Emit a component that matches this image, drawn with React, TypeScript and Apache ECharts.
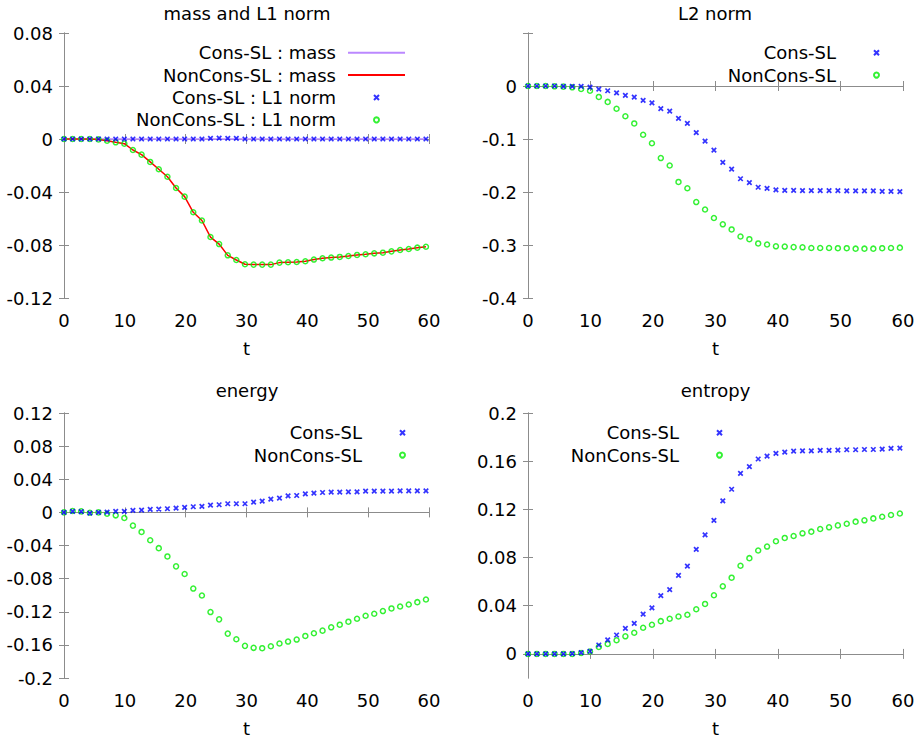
import React, { useEffect, useRef } from "react";
import * as echarts from "echarts";

// time samples
const tValues = [
  0, 1.42, 2.83, 4.25, 5.67, 7.08, 8.5, 9.92, 11.33, 12.75, 14.17, 15.58, 17, 18.42,
  19.83, 21.25, 22.67, 24.08, 25.5, 26.92, 28.33, 29.75, 31.17, 32.58, 34, 35.42,
  36.83, 38.25, 39.67, 41.08, 42.5, 43.92, 45.33, 46.75, 48.17, 49.58, 51, 52.42,
  53.83, 55.25, 56.67, 58.08, 59.5,
];

// mass and L1 norm
const consMass = [
  0, 0, 0, 0, 0, 0, 0, 0, 0, 0, 0, 0, 0, 0, 0, 0, 0, 0, 0, 0, 0, 0, 0, 0, 0, 0, 0,
  0, 0, 0, 0, 0, 0, 0, 0, 0, 0, 0, 0, 0, 0, 0, 0,
];
const nonConsMass = [
  0, 0, 0, 0, -0.0003, -0.0013, -0.0025, -0.0035, -0.0083, -0.0118, -0.0173, -0.0228,
  -0.0285, -0.037, -0.0435, -0.0553, -0.0615, -0.074, -0.0793, -0.0878, -0.0913,
  -0.0945, -0.0948, -0.0948, -0.0948, -0.0933, -0.093, -0.0928, -0.0923, -0.091,
  -0.09, -0.0895, -0.089, -0.0883, -0.0875, -0.087, -0.0863, -0.0858, -0.0848,
  -0.0838, -0.083, -0.082, -0.0813,
];
const consL1 = [
  0, 0, 0, 0, 0, 0, 0, 0, 0, 0, 0, 0, 0, 0, 0, 0, 0, 0.0005, 0.0006, 0.0005, 0.0004,
  0, 0, 0, 0, 0, 0, 0, 0, 0, 0, 0, 0, 0, 0, 0, 0, 0, 0, 0, 0, 0, 0,
];
const nonConsL1 = [
  0, 0, 0, 0, -0.0003, -0.0013, -0.0025, -0.0035, -0.0083, -0.0118, -0.0173, -0.0228,
  -0.0285, -0.037, -0.0435, -0.0553, -0.0615, -0.074, -0.0793, -0.0878, -0.0913,
  -0.0945, -0.0948, -0.0948, -0.0948, -0.0933, -0.093, -0.0928, -0.0923, -0.091,
  -0.09, -0.0895, -0.089, -0.0883, -0.0875, -0.087, -0.0863, -0.0858, -0.0848,
  -0.0838, -0.083, -0.082, -0.0813,
];

// L2 norm
const consL2 = [
  0, 0, 0, 0, -0.0006, -0.0006, -0.0006, -0.002, -0.006, -0.009, -0.013, -0.0175,
  -0.021, -0.027, -0.032, -0.0425, -0.0475, -0.061, -0.0706, -0.088, -0.104, -0.121,
  -0.144, -0.157, -0.175, -0.1825, -0.191, -0.193, -0.196, -0.197, -0.197, -0.1975,
  -0.1975, -0.1975, -0.1975, -0.1975, -0.198, -0.198, -0.198, -0.198, -0.1988,
  -0.1988, -0.1994,
];
const nonConsL2 = [
  0, 0, 0, -0.0006, -0.0012, -0.0025, -0.0056, -0.009, -0.0206, -0.03, -0.043, -0.057,
  -0.0706, -0.092, -0.108, -0.136, -0.15, -0.181, -0.193, -0.219, -0.233, -0.249,
  -0.261, -0.2706, -0.284, -0.289, -0.297, -0.299, -0.3025, -0.303, -0.304, -0.3044,
  -0.3056, -0.3056, -0.3056, -0.306, -0.306, -0.3069, -0.3069, -0.3069, -0.306,
  -0.3056, -0.305,
];

// energy
const consEnergy = [
  0, 0.0012, 0.0008, -0.0008, 0, 0.0004, 0.0012, 0.0012, 0.0024, 0.0028, 0.0036,
  0.004, 0.0044, 0.0052, 0.006, 0.0068, 0.0072, 0.0088, 0.0092, 0.0104, 0.0104,
  0.0104, 0.0124, 0.0136, 0.016, 0.0172, 0.02, 0.0204, 0.0224, 0.0232, 0.024, 0.0244,
  0.0244, 0.0248, 0.0248, 0.0256, 0.0256, 0.0256, 0.0256, 0.026, 0.026, 0.026, 0.026,
];
const nonConsEnergy = [
  0, 0.0016, 0.0012, -0.0004, 0, -0.0016, -0.0036, -0.0068, -0.016, -0.0236, -0.0336,
  -0.0432, -0.0532, -0.0652, -0.0744, -0.092, -0.1004, -0.1204, -0.1292, -0.1464,
  -0.1532, -0.1612, -0.1636, -0.164, -0.1616, -0.1584, -0.156, -0.1536, -0.1492,
  -0.146, -0.1428, -0.1388, -0.1356, -0.132, -0.1284, -0.1248, -0.1224, -0.1192,
  -0.116, -0.1136, -0.1112, -0.1084, -0.1052,
];

// entropy
const consEntropy = [
  0, 0, 0, 0, 0, 0.0003, 0.0011, 0.0022, 0.0074, 0.0116, 0.0157, 0.0212, 0.0253,
  0.033, 0.0382, 0.0484, 0.0534, 0.0652, 0.0729, 0.0867, 0.0988, 0.1109, 0.1271,
  0.1367, 0.1499, 0.1554, 0.1618, 0.1642, 0.1664, 0.1675, 0.1684, 0.1686, 0.1686,
  0.1689, 0.1689, 0.1692, 0.1695, 0.1695, 0.1697, 0.1697, 0.17, 0.1706, 0.1708,
];
const nonConsEntropy = [
  0, 0, 0, 0, 0, 0, 0.0008, 0.002, 0.0058, 0.0083, 0.0113, 0.0146, 0.0176, 0.0217,
  0.0242, 0.0272, 0.0292, 0.0311, 0.0325, 0.0371, 0.0415, 0.0487, 0.0561, 0.0633,
  0.0732, 0.0795, 0.0858, 0.0891, 0.0935, 0.0963, 0.0979, 0.1001, 0.1015, 0.1037,
  0.1051, 0.1067, 0.1081, 0.1098, 0.1109, 0.1125, 0.1139, 0.1153, 0.1166,
];

const panelTitles = ["mass and L1 norm", "L2 norm", "energy", "entropy"];
const entropyTicks = [0, 0.04, 0.08, 0.12, 0.16, 0.2];

const FONT = "DejaVu Sans";
const GRAY = "#8c8c8c";
const BLUE = "#0000ff";
const GREEN = "#00ee00";
const CROSS = "path://M0,0L10,10M10,0L0,10";

const pairs = (ys: number[]) => tValues.map((t, i) => [t, ys[i]]);

export default function App() {
  const ref = useRef<HTMLDivElement>(null);
  useEffect(() => {
    if (!ref.current) return;
    const chart = echarts.init(ref.current, null, { renderer: "svg" });

    const grids = [
      { left: 64, top: 33, width: 365, height: 265 },
      { left: 528, top: 33, width: 375, height: 265 },
      { left: 64, top: 413, width: 365, height: 266 },
      { left: 528, top: 413, width: 375, height: 266 },
    ];
    const yRanges: any[] = [
      { min: -0.12, max: 0.08, interval: 0.04 },
      { min: -0.4, max: 0.1, interval: 0.1 },
      { min: -0.2, max: 0.12, interval: 0.04 },
      { min: -0.02, max: 0.2 },
    ];

    const lineStyleAxis = { lineStyle: { color: GRAY, width: 1 } };
    const tick = { inside: true, length: 5, lineStyle: { color: GRAY } };
    const label = { color: "#000", fontFamily: FONT, fontSize: 18 };

    const xAxis: any[] = [];
    const yAxis: any[] = [];
    grids.forEach((_, g) => {
      xAxis.push({
        type: "value",
        gridIndex: g,
        position: "bottom",
        min: 0,
        max: 60,
        interval: 10,
        name: "t",
        nameLocation: "middle",
        nameGap: 41,
        nameTextStyle: { ...label },
        axisLine: lineStyleAxis,
        axisTick: tick,
        axisLabel: { ...label, margin: 13 },
        splitLine: { show: false },
      });
      xAxis.push({
        type: "value",
        gridIndex: g,
        position: "top",
        min: 0,
        max: 60,
        interval: 10,
        axisLine: lineStyleAxis,
        axisTick: tick,
        axisLabel: { show: false },
        splitLine: { show: false },
      });
      const yr = yRanges[g];
      const custom = g === 3;
      yAxis.push({
        type: "value",
        gridIndex: g,
        position: "left",
        ...yr,
        axisLine: lineStyleAxis,
        axisTick: custom ? { ...tick, customValues: entropyTicks } : tick,
        axisLabel: custom
          ? { ...label, margin: 11, customValues: entropyTicks }
          : {
              ...label,
              margin: 11,
              formatter: (v: number) => (g === 1 && v > 0.05 ? "" : String(+v.toFixed(4))),
            },
        splitLine: { show: false },
      });
      yAxis.push({
        type: "value",
        gridIndex: g,
        position: "right",
        ...yr,
        axisLine: lineStyleAxis,
        axisTick: custom ? { ...tick, customValues: entropyTicks } : tick,
        axisLabel: { show: false },
        splitLine: { show: false },
      });
    });

    const crossSeries = (name: string, g: number, ys: number[]) => ({
      type: "scatter",
      name,
      xAxisIndex: g * 2,
      yAxisIndex: g * 2,
      symbol: CROSS,
      symbolSize: 4.5,
      itemStyle: { color: BLUE, borderColor: BLUE, borderWidth: 1.7 },
      data: pairs(ys),
      z: 4,
    });
    const circleSeries = (name: string, g: number, ys: number[]) => ({
      type: "scatter",
      name,
      xAxisIndex: g * 2,
      yAxisIndex: g * 2,
      symbol: "circle",
      symbolSize: 5,
      itemStyle: { color: "rgba(0,0,0,0)", borderColor: GREEN, borderWidth: 1.5 },
      data: pairs(ys),
      z: 3,
    });
    const lineSeries = (name: string, g: number, ys: number[], color: string) => ({
      type: "line",
      name,
      xAxisIndex: g * 2,
      yAxisIndex: g * 2,
      symbol: "none",
      lineStyle: { color, width: 1.5 },
      itemStyle: { color },
      data: pairs(ys),
      z: 2,
    });

    const series = [
      lineSeries("Cons-SL : mass", 0, consMass, "#bb88ff"),
      lineSeries("NonCons-SL : mass", 0, nonConsMass, "#ff0000"),
      crossSeries("Cons-SL : L1 norm", 0, consL1),
      circleSeries("NonCons-SL : L1 norm", 0, nonConsL1),
      crossSeries("Cons-SL", 1, consL2),
      circleSeries("NonCons-SL", 1, nonConsL2),
      crossSeries("Cons-SL", 2, consEnergy),
      circleSeries("NonCons-SL", 2, nonConsEnergy),
      crossSeries("Cons-SL", 3, consEntropy),
      circleSeries("NonCons-SL", 3, nonConsEntropy),
    ];

    const legendBase = {
      orient: "vertical",
      align: "right",
      padding: 0,
      itemGap: 0.4,
      itemWidth: 57,
      itemHeight: 5,
      selectedMode: false,
      textStyle: {
        color: "#000",
        fontFamily: FONT,
        fontSize: 18,
        lineHeight: 22,
        padding: [0, 7, 0, 0],
      },
    };
    const legend = [
      {
        ...legendBase,
        right: 515,
        top: 41.7,
        data: [
          { name: "Cons-SL : mass", itemStyle: { opacity: 0 } },
          { name: "NonCons-SL : mass", itemStyle: { opacity: 0 } },
          "Cons-SL : L1 norm",
          "NonCons-SL : L1 norm",
        ],
      },
      { ...legendBase, right: 41, top: 41.7, data: ["Cons-SL", "NonCons-SL"] },
      { ...legendBase, right: 515, top: 421.7, data: ["Cons-SL", "NonCons-SL"] },
      { ...legendBase, right: 198, top: 421.7, data: ["Cons-SL", "NonCons-SL"] },
    ];

    const titleCenters = [
      [247, 4.5],
      [715, 4.5],
      [247, 381],
      [715.5, 381],
    ];
    const title = panelTitles.map((text, i) => ({
      text,
      left: titleCenters[i][0],
      top: titleCenters[i][1],
      textAlign: "center",
      padding: 0,
      textStyle: { color: "#000", fontFamily: FONT, fontSize: 18, fontWeight: "normal" },
    }));

    chart.setOption({
      animation: false,
      backgroundColor: "#fff",
      title,
      legend,
      grid: grids,
      xAxis,
      yAxis,
      series,
    });
    return () => chart.dispose();
  }, []);

  return (
    <div
      ref={ref}
      style={{ position: "fixed", left: 0, top: 0, width: 921, height: 738, background: "#fff" }}
    />
  );
}
